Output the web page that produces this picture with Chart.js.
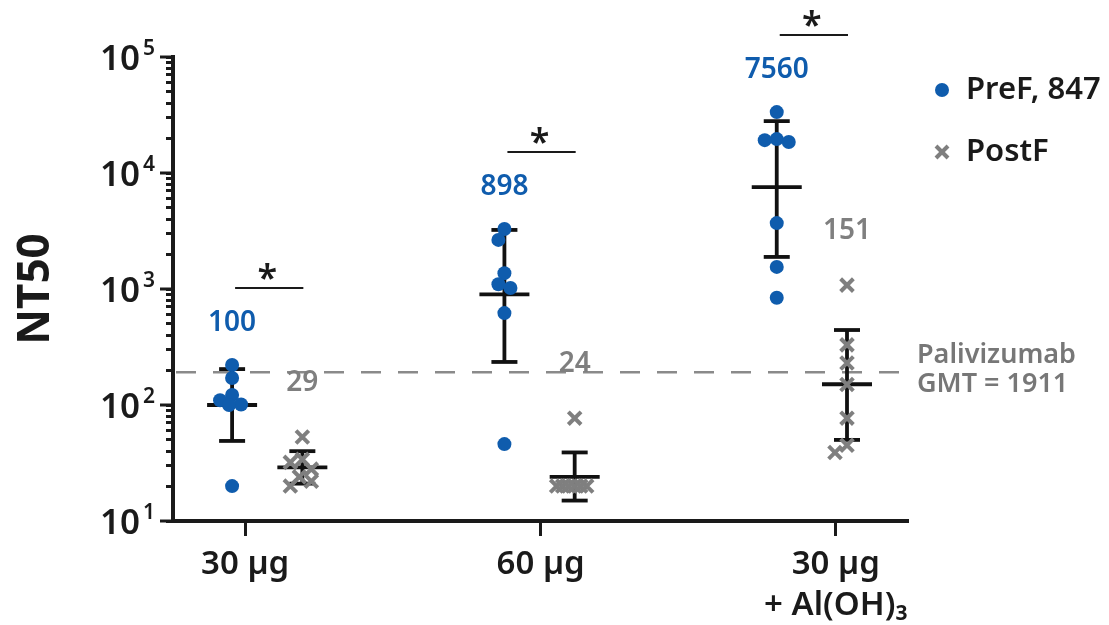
<!DOCTYPE html>
<html>
<head>
<meta charset="utf-8">
<script src="https://cdn.jsdelivr.net/npm/chart.js@4"></script>
<style>
  html, body { margin: 0; background: #fff; }
  #wrap { width: 1109px; height: 625px; }
</style>
</head>
<body>
<div id="wrap"><canvas id="chart"></canvas></div>
<script>
// ---- data ----
const categories = ['30 µg', '60 µg', ['30 µg', '+ Al(OH)₃']];
const preF = [
  [221, 171, 122, 110, 101, 100, 20],
  [3290, 2650, 1370, 1100, 1020, 620, 46],
  [33500, 19600, 19200, 18500, 3700, 1550, 840]
];
const postF = [
  [53, 34, 32, 28, 24, 22, 20],
  [77, 20, 20, 20, 20, 20, 20],
  [1080, 330, 230, 150, 77, 45, 39]
];
const preGmt = [100, 898, 7560];
const postGmt = [29, 24, 151];
const preSd = [[49, 204], [235, 3230], [1890, 28000]];   // [low, high]
const postSd = [[21, 40], [15, 39], [50, 443]];
const palivizumab = 191.1;
const palivizumabText = ['Palivizumab', 'GMT = 1911'];
const yTicks = [10, 100, 1000, 10000, 100000];

const BLUE = '#0f5cad';
const GRAY = '#7f7f7f';
const INK = '#1a1a1a';
const FONT = "'Noto Sans', sans-serif";

// x layout: groups sit at 1,2,3, series shifted either side
const SHIFT = 0.129;
const tickPos = [0.919, 2.004, 3.088];

// simple beeswarm so overlapping dots spread sideways (px approx.)
const PX_X = 272, PX_DEC = 116, MIN_D = 12;
function swarm(vals, center) {
  const placed = [];
  const cands = [0];
  for (let k = 1; k <= 6; k++) cands.push(-3 * k, 3 * k);
  return vals.map(v => {
    const py = Math.log10(v) * PX_DEC;
    let pick = null, bestD = -1, bestDx = 0;
    for (const dx of cands) {
      let d = Infinity;
      placed.forEach(p => { d = Math.min(d, Math.hypot(p[0] - dx, p[1] - py)); });
      if (d >= MIN_D) { pick = dx; break; }
      if (d > bestD) { bestD = d; bestDx = dx; }
    }
    if (pick === null) pick = bestDx;
    placed.push([pick, py]);
    return { x: center + pick / PX_X, y: v };
  });
}

const preData = preF.flatMap((vals, i) => swarm(vals, i + 1 - SHIFT));
const postData = postF.flatMap((vals, i) => swarm(vals, i + 1 + SHIFT));

function line(ctx, x1, y1, x2, y2) {
  ctx.beginPath(); ctx.moveTo(x1, y1); ctx.lineTo(x2, y2); ctx.stroke();
}

function errBar(ctx, xs, ys, cx, gmt, sd) {
  const x = xs.getPixelForValue(cx);
  const yl = ys.getPixelForValue(sd[0]);
  const yh = ys.getPixelForValue(sd[1]);
  const ym = ys.getPixelForValue(gmt);
  line(ctx, x, yh, x, yl);
  line(ctx, x - 13, yh, x + 13, yh);
  line(ctx, x - 13, yl, x + 13, yl);
  line(ctx, x - 25, ym, x + 25, ym);
}

const decor = {
  id: 'decor',
  beforeDatasetsDraw(chart) {
    const { ctx, chartArea: a, scales: { x: xs, y: ys } } = chart;
    ctx.save();
    // palivizumab reference line
    const yp = ys.getPixelForValue(palivizumab);
    ctx.strokeStyle = '#8a8a8a';
    ctx.lineWidth = 2.5;
    ctx.setLineDash([20, 17]);
    line(ctx, a.left + 3, yp, a.right, yp);
    ctx.setLineDash([]);
    // GMT with error bars
    ctx.strokeStyle = '#111';
    ctx.lineWidth = 3.8;
    for (let i = 0; i < 3; i++) {
      errBar(ctx, xs, ys, i + 1 - SHIFT, preGmt[i], preSd[i]);
      errBar(ctx, xs, ys, i + 1 + SHIFT, postGmt[i], postSd[i]);
    }
    ctx.restore();
  },
  afterDatasetsDraw(chart) {
    const { ctx, chartArea: a, scales: { x: xs, y: ys } } = chart;
    ctx.save();
    // y tick labels 10^n and long major ticks
    ctx.fillStyle = INK;
    ctx.strokeStyle = INK;
    ctx.lineWidth = 3;
    yTicks.forEach(v => {
      const y = ys.getPixelForValue(v);
      line(ctx, a.left - 13, y, a.left, y);
      ctx.textBaseline = 'middle';
      ctx.textAlign = 'right';
      ctx.font = `600 35px ${FONT}`;
      ctx.fillText('10', 140, y + 3);
      ctx.textAlign = 'left';
      ctx.font = `600 21px ${FONT}`;
      ctx.fillText(String(Math.round(Math.log10(v))), 143, y - 8);
    });

    // GMT value labels, significance bars
    ctx.textAlign = 'center';
    ctx.textBaseline = 'middle';
    for (let i = 0; i < 3; i++) {
      const xPre = xs.getPixelForValue(i + 1 - SHIFT);
      const xPost = xs.getPixelForValue(i + 1 + SHIFT);
      const yPre = ys.getPixelForValue(Math.max(...preF[i])) - 42;
      const yPost = ys.getPixelForValue(Math.max(...postF[i])) - 54;
      ctx.font = `600 28px ${FONT}`;
      ctx.fillStyle = BLUE;
      ctx.fillText(String(preGmt[i]), xPre, yPre);
      ctx.fillStyle = GRAY;
      ctx.fillText(String(postGmt[i]), xPost, yPost);
      const yb = yPre - 35;
      ctx.strokeStyle = INK;
      ctx.lineWidth = 2;
      line(ctx, xPre + 3, yb, xPost + 1, yb);
      ctx.fillStyle = INK;
      ctx.font = `600 36px ${FONT}`;
      ctx.textBaseline = 'alphabetic';
      ctx.fillText('*', (xPre + xPost) / 2, yb + 2);
      ctx.textBaseline = 'middle';
    }

    // palivizumab label
    ctx.textAlign = 'left';
    ctx.fillStyle = '#777';
    ctx.font = `600 27px ${FONT}`;
    ctx.fillText(palivizumabText[0], 917, 355);
    ctx.fillText(palivizumabText[1], 917, 384);

    // legend
    const names = chart.data.datasets.map(d => d.label);
    ctx.fillStyle = BLUE;
    ctx.beginPath(); ctx.arc(942, 90, 7, 0, Math.PI * 2); ctx.fill();
    ctx.strokeStyle = GRAY;
    ctx.lineWidth = 4;
    line(ctx, 936, 146, 948, 158);
    line(ctx, 936, 158, 948, 146);
    ctx.fillStyle = INK;
    ctx.font = `600 31px ${FONT}`;
    ctx.fillText(names[0], 966, 90);
    ctx.fillText(names[1], 966, 152);
    ctx.restore();
  }
};

new Chart(document.getElementById('chart'), {
  type: 'scatter',
  data: {
    datasets: [
      {
        label: 'PreF, 847',
        data: preData,
        pointStyle: 'circle',
        pointRadius: 7,
        pointBackgroundColor: BLUE,
        pointBorderWidth: 0
      },
      {
        label: 'PostF',
        data: postData,
        pointStyle: 'crossRot',
        pointRadius: 9,
        pointBorderColor: GRAY,
        pointBorderWidth: 4
      }
    ]
  },
  options: {
    responsive: true,
    maintainAspectRatio: false,
    animation: false,
    layout: { padding: { top: 57, right: 201, left: 0, bottom: 0 } },
    plugins: { legend: { display: false }, tooltip: { enabled: false } },
    scales: {
      x: {
        type: 'linear',
        min: 0.654,
        max: 3.353,
        afterBuildTicks: s => { s.ticks = tickPos.map(v => ({ value: v })); },
        afterFit: s => { s.height = 104; },
        ticks: {
          autoSkip: false,
          maxRotation: 0,
          padding: 8,
          color: INK,
          font: { family: FONT, size: 33, weight: 600, lineHeight: 1.25 },
          callback: (v, i) => categories[i]
        },
        grid: { drawOnChartArea: false, tickLength: 15, tickWidth: 3, tickColor: INK },
        border: { width: 4, color: INK }
      },
      y: {
        type: 'logarithmic',
        min: 10,
        max: 100000,
        afterBuildTicks: s => {
          const t = [];
          for (let e = 1; e < 5; e++) for (let m = 1; m < 10; m++) t.push({ value: m * Math.pow(10, e) });
          t.push({ value: 100000 });
          s.ticks = t;
        },
        afterFit: s => { s.width = 173; },
        ticks: { display: false, autoSkip: false },
        grid: { drawOnChartArea: false, tickLength: 7, tickWidth: 3, tickColor: INK },
        border: { width: 4, color: INK },
        title: {
          display: true,
          text: 'NT50',
          color: INK,
          font: { family: FONT, size: 44, weight: 700 },
          padding: { top: 10, bottom: 0 }
        }
      }
    }
  },
  plugins: [decor]
});
</script>
</body>
</html>
